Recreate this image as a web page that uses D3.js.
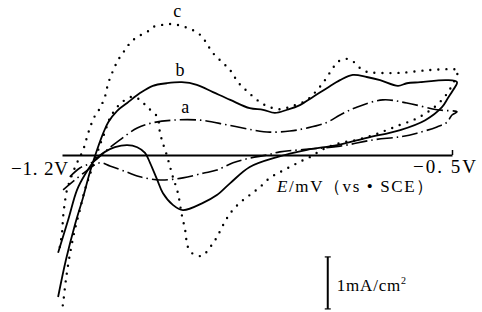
<!DOCTYPE html>
<html><head><meta charset="utf-8">
<script src="https://cdn.jsdelivr.net/npm/d3@7"></script>
<style>
html,body{margin:0;padding:0;background:#fff;}
svg{display:block;}
</style></head>
<body>
<svg id="chart" width="482" height="312"></svg>
<script>
// potential range (mV vs SCE) and axis labels
const potentialDomain = [-1200, -500];
const axisLabels = ["−1. 2V", "−0. 5V"];
const scaleBarValue = 1; // mA/cm²
const curveNames = ["a", "b", "c"];

// curve a (dash-dot): [E mV, i mA/cm²]
const curveA = [
  [-1186,-0.42],[-1168,-0.25],[-1144,-0.13],[-1119,0.10],[-1096,0.29],[-1065,0.52],[-1037,0.62],
  [-1001,0.67],[-952,0.67],[-904,0.58],[-857,0.48],[-827,0.44],[-791,0.46],[-760,0.52],[-724,0.63],
  [-701,0.77],[-671,0.92],[-624,1.06],[-581,1.00],[-527,0.87],[-491,0.83],
  [-500,0.77],[-509,0.63],[-527,0.54],[-563,0.42],[-593,0.35],[-642,0.29],[-701,0.17],[-773,0.10],
  [-809,0.06],[-832,0.00],[-863,-0.06],[-893,-0.15],[-922,-0.29],[-947,-0.35],[-983,-0.44],
  [-1024,-0.48],[-1060,-0.42],[-1083,-0.33],[-1114,-0.21],[-1132,-0.15],[-1159,-0.33],[-1198,-0.67]
];

// curve b (solid)
const curveB = [
  [-1207,-2.73],[-1193,-2.02],[-1177,-1.35],[-1162,-0.81],[-1150,-0.33],[-1137,0.10],[-1126,0.42],
  [-1117,0.63],[-1101,0.85],[-1083,1.00],[-1060,1.19],[-1037,1.33],[-1012,1.38],[-985,1.40],
  [-958,1.35],[-929,1.21],[-898,1.06],[-863,0.90],[-839,0.87],[-818,0.81],[-796,0.87],[-773,0.96],
  [-749,1.12],[-724,1.29],[-701,1.44],[-678,1.54],[-653,1.50],[-629,1.44],[-597,1.33],[-581,1.38],
  [-557,1.40],[-509,1.44],[-491,1.40],
  [-498,1.25],[-507,1.10],[-518,0.92],[-548,0.67],[-593,0.48],[-653,0.33],[-706,0.19],[-760,0.10],
  [-814,-0.04],[-863,-0.23],[-898,-0.54],[-922,-0.77],[-947,-0.92],[-983,-1.06],[-1001,-0.96],
  [-1019,-0.73],[-1029,-0.48],[-1042,-0.15],[-1051,0.04],[-1065,0.15],[-1083,0.19],[-1105,0.15],
  [-1123,0.06],[-1141,-0.10],[-1159,-0.38],[-1173,-0.67],[-1189,-1.25],[-1207,-1.88]
];

// curve c (dotted)
const curveC = [
  [-1204,-1.77],[-1200,-1.50],[-1198,-1.19],[-1195,-0.92],[-1191,-0.67],[-1182,-0.38],[-1173,-0.15],
  [-1162,0.10],[-1153,0.42],[-1143,0.71],[-1132,0.90],[-1123,1.12],[-1117,1.38],[-1108,1.63],
  [-1099,1.83],[-1087,2.02],[-1078,2.15],[-1065,2.27],[-1047,2.37],[-1037,2.46],[-1021,2.50],
  [-1006,2.52],[-979,2.46],[-952,2.31],[-929,1.96],[-911,1.77],[-898,1.63],[-884,1.40],[-866,1.21],
  [-845,1.02],[-827,0.92],[-809,0.88],[-787,0.94],[-760,1.06],[-742,1.25],[-728,1.44],[-714,1.67],
  [-705,1.79],[-692,1.85],[-683,1.83],[-674,1.77],[-665,1.67],[-653,1.60],[-635,1.58],[-593,1.58],
  [-545,1.63],[-504,1.65],[-489,1.63],
  [-491,1.54],[-498,1.38],[-507,1.21],[-518,1.06],[-534,0.90],[-552,0.77],[-570,0.67],[-593,0.58],
  [-617,0.48],[-642,0.38],[-671,0.29],[-701,0.23],[-728,0.13],[-755,-0.04],[-773,-0.13],[-791,-0.23],
  [-809,-0.33],[-827,-0.44],[-845,-0.62],[-863,-0.77],[-881,-0.92],[-898,-1.12],[-911,-1.35],
  [-922,-1.58],[-934,-1.77],[-949,-1.94],[-965,-1.90],[-974,-1.77],[-979,-1.44],[-985,-1.15],
  [-992,-0.73],[-1001,-0.42],[-1006,-0.23],[-1012,0.00],[-1019,0.23],[-1024,0.42],[-1029,0.73],
  [-1047,0.92],[-1060,1.06],[-1074,1.12],[-1096,0.98],[-1114,0.71],[-1123,0.44],[-1132,0.19],
  [-1141,-0.10],[-1150,-0.38],[-1159,-0.67],[-1168,-1.06],[-1177,-1.44],[-1186,-1.92],[-1193,-2.40],
  [-1198,-2.85],[-1200,-2.98]
];

// label anchor points for curves [E, i]
const labelPos = [[-979,0.81],[-988,1.52],[-993,2.66]];

const FONT = "'Liberation Serif','Times New Roman','DejaVu Serif',serif";
const svg = d3.select("#chart");
const x = d3.scaleLinear().domain(potentialDomain).range([62, 452]);
const y = d3.scaleLinear().domain([0, 1]).range([155, 103]);

const line = d3.line().x(d => x(d[0])).y(d => y(d[1])).curve(d3.curveCatmullRom.alpha(0.5));

// curves
svg.append("path").datum(curveC).attr("d", line).attr("fill","none").attr("stroke","#000")
  .attr("stroke-width",2.4).attr("stroke-linecap","round").attr("stroke-dasharray","0 8");
svg.append("path").datum(curveA).attr("d", line).attr("fill","none").attr("stroke","#000")
  .attr("stroke-width",1.6).attr("stroke-dasharray","16 4 1.5 4");
svg.append("path").datum(curveB).attr("d", line).attr("fill","none").attr("stroke","#000")
  .attr("stroke-width",1.8);

// axis at zero current
const axis = d3.axisTop(x).tickValues([potentialDomain[1]]).tickFormat("").tickSizeInner(5).tickSizeOuter(0);
const ag = svg.append("g").attr("transform", `translate(0,${y(0)})`).call(axis);
ag.select(".domain").attr("stroke","#000").attr("stroke-width",2);
ag.selectAll(".tick line").attr("stroke","#000").attr("stroke-width",1.5);

function txt(xp, yp, size, s, ls) {
  return svg.append("text").attr("x", xp).attr("y", yp).attr("font-family", FONT)
    .attr("font-size", size).attr("letter-spacing", ls || 0).attr("fill", "#000").text(s);
}

// axis labels
txt(11, 175, 19, axisLabels[0], 0.8);
txt(413, 173, 19, axisLabels[1], 2);

const t = svg.append("text").attr("x", 277).attr("y", 192).attr("font-family", FONT)
  .attr("font-size", 17).attr("letter-spacing", 1.6).attr("fill","#000");
t.append("tspan").attr("font-style","italic").text("E");
t.append("tspan").text("/mV（vs • SCE）");

// curve labels
svg.selectAll(".clabel").data(curveNames).enter().append("text")
  .attr("class","clabel").attr("text-anchor","middle").attr("font-family", FONT).attr("font-size",18)
  .attr("x", (d,i) => x(labelPos[i][0])).attr("y", (d,i) => y(labelPos[i][1])).text(d => d);

// scale bar 1 mA/cm²
const sbE = -723, sbTop = -1.96;
const sx = x(sbE);
const sy1 = y(sbTop), sy2 = y(sbTop - scaleBarValue);
svg.append("line").attr("x1", sx).attr("x2", sx).attr("y1", sy1).attr("y2", sy2)
  .attr("stroke","#000").attr("stroke-width",2);
[sy1, sy2].forEach(v => svg.append("line").attr("x1", sx-3).attr("x2", sx+3).attr("y1", v).attr("y2", v)
  .attr("stroke","#000").attr("stroke-width",1.2));
const st = svg.append("text").attr("x", sx + 9).attr("y", 291).attr("font-family", FONT)
  .attr("font-size", 17).attr("letter-spacing", 0.8).attr("fill","#000");
st.append("tspan").text(scaleBarValue + "mA/cm");
st.append("tspan").attr("font-size", 10).attr("dy", -7).text("2");
</script>
</body></html>
